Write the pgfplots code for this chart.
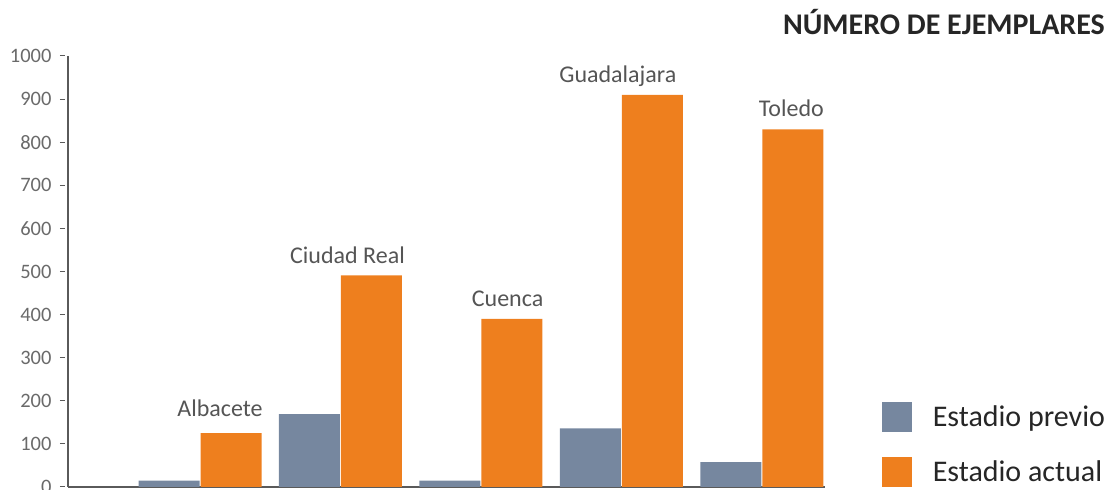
\documentclass[border=0pt]{standalone}
\usepackage{pgfplots}
\pgfplotsset{compat=1.18}
\usepackage{fontspec}
\setmainfont{Carlito}
\definecolor{previo}{HTML}{76879F}
\definecolor{actual}{HTML}{EE7F1E}
\definecolor{axisgray}{HTML}{5A5A5A}
\definecolor{ticktext}{HTML}{6A6A6A}
\definecolor{cattext}{HTML}{555555}
\definecolor{legtext}{HTML}{262626}

\pgfplotstableread{
x previo actual
0 15 125
1 169 491
2 15 390
3 136 910
4 58 830
}\datos

\begin{document}
\begin{tikzpicture}
\begin{axis}[
  scale only axis,
  width=757pt, height=431pt,
  xmin=-0.94, xmax=4.45,
  ymin=0, ymax=1000,
  clip=false,
  axis x line*=bottom,
  axis y line*=left,
  axis line style={axisgray, line width=1.2pt, -},
  xtick=\empty,
  ytick={0,100,...,1000},
  tick align=outside,
  major tick length=5pt,
  ytick style={axisgray, line width=1pt, xshift=-3pt},
  yticklabel style={font=\fontsize{20.5}{22}\selectfont, text=ticktext, xshift=-8pt},
  /pgf/number format/assume math mode=true,
  /pgf/number format/1000 sep={},
  ybar, bar width=61pt,
  legend style={at={(1.075,0)}, anchor=south west, draw=none, fill=none,
    inner sep=0pt, outer sep=0pt, row sep=25pt, column sep=21pt,
    font=\fontsize{30}{32}\selectfont, text=legtext,
    nodes={inner sep=0pt, anchor=west}},
  legend image code/.code={\fill[#1] (0pt,-15pt) rectangle (30pt,15pt);},
  legend cell align=left,
]
\addplot[fill=previo, draw=none, bar shift=-31pt] table[x=x, y=previo] {\datos};
\addlegendentry{Estadio previo}
\addplot[fill=actual, draw=none, bar shift=31pt] table[x=x, y=actual] {\datos};
\addlegendentry{Estadio actual}

\begin{scope}[every node/.style={font=\fontsize{24}{26}\selectfont, text=cattext}]
\node at (axis cs:0.142,183) {Albacete};
\node at (axis cs:1.05,538) {Ciudad Real};
\node at (axis cs:2.19,436) {Cuenca};
\node at (axis cs:2.975,954) {Guadalajara};
\node at (axis cs:4.21,879) {Toledo};
\end{scope}
\node[anchor=east, font=\fontsize{30}{32}\selectfont\bfseries, text=legtext, inner sep=0pt]
  at (rel axis cs:1.37,1.079) {NÚMERO DE EJEMPLARES};
\end{axis}
\pgfresetboundingbox
\path[use as bounding box] (-68pt,-3pt) rectangle (1052pt,487pt);
\end{tikzpicture}
\end{document}
